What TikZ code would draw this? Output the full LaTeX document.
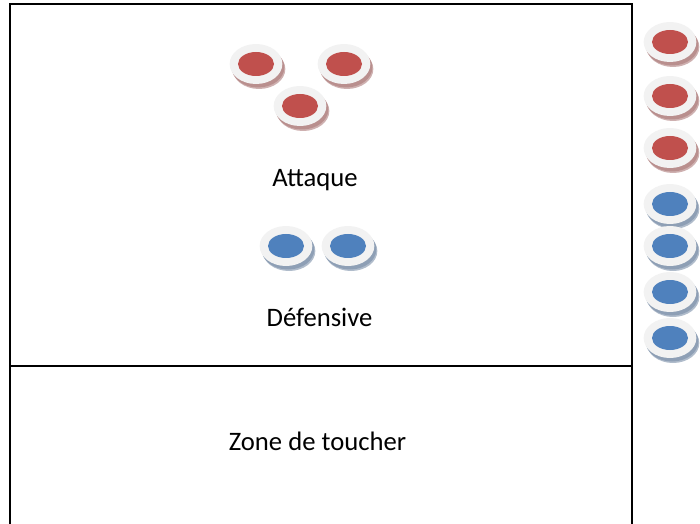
\documentclass[tikz,border=0pt]{standalone}
\usepackage{fontspec}
\setmainfont{Carlito}
\usetikzlibrary{shapes.geometric}
\definecolor{redfill}{HTML}{C0504D}
\definecolor{bluefill}{HTML}{4F81BD}
\definecolor{rim}{HTML}{F2F2F2}
\definecolor{redshade}{HTML}{B98F8E}
\definecolor{blueshade}{HTML}{8E9FB5}
\tikzset{
  x=0.75pt,y=-0.75pt,
  border/.style={draw=black,line width=1.7pt},
  rimdisc/.style={ellipse,fill=rim,inner sep=0pt,minimum width=39.5pt,minimum height=30pt},
  shadedisc/.style={ellipse,inner sep=0pt,minimum width=39.5pt,minimum height=30pt},
  coredisc/.style={ellipse,inner sep=0pt,minimum width=27pt,minimum height=18pt},
  caption/.style={font=\fontsize{20}{24}\selectfont,text=black,inner sep=0pt,anchor=base}
}
\newcommand{\puck}[4]{%
  \node[shadedisc,fill=#4shade,opacity=0.7] (#1t) at (#2+3,#3+5) {};
  \node[shadedisc,fill=#4shade] (#1s) at (#2+2,#3+3.5) {};
  \node[rimdisc] (#1r) at (#2,#3) {};
  \node[coredisc,fill=#4fill] (#1) at (#2,#3) {};
}
\begin{document}
\begin{tikzpicture}
\useasboundingbox (0,0) rectangle (700,524);
\coordinate (tl) at (10,4);
\coordinate (tr) at (632,4);
\coordinate (bl) at (10,524);
\coordinate (br) at (632,524);
\coordinate (ml) at (10,366);
\coordinate (mr) at (632,366);
\draw[border,line join=miter] (bl) -- (tl) -- (tr) -- (br);
\draw[border] (ml) -- (mr);
\puck{a}{256}{64}{red}
\puck{b}{344}{64}{red}
\puck{c}{300}{106}{red}
\puck{d}{286}{246}{blue}
\puck{e}{348}{246}{blue}
\puck{f}{670}{42}{red}
\puck{g}{670}{96}{red}
\puck{h}{670}{148}{red}
\puck{i}{670}{204}{blue}
\puck{j}{670}{246}{blue}
\puck{k}{670}{292}{blue}
\puck{l}{670}{338}{blue}
\node[caption] (attaque) at (315,186.5) {Attaque};
\node[caption] (defensive) at (319.5,326) {Défensive};
\node[caption] (zone) at (317.5,450) {Zone de toucher};
\end{tikzpicture}
\end{document}
